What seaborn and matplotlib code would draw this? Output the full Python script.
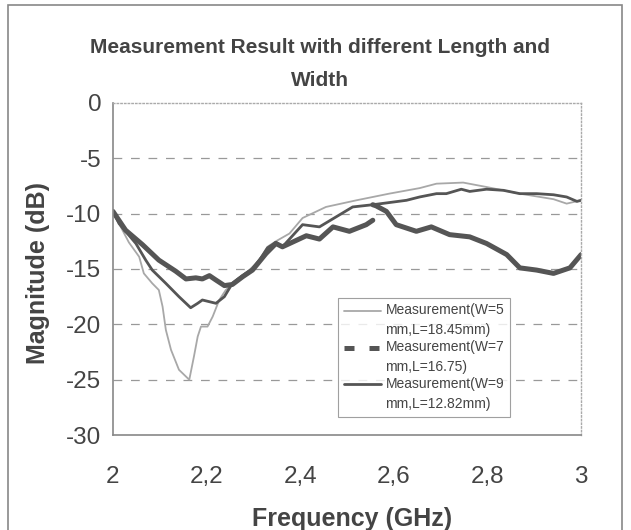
import numpy as np
import pandas as pd
import matplotlib
matplotlib.use('Agg')
import matplotlib.pyplot as plt
import seaborn as sns
from matplotlib.lines import Line2D
from matplotlib.patches import Rectangle
from matplotlib.legend_handler import HandlerLine2D

sns.set_style('white')
plt.rcParams['font.family'] = ['Liberation Sans', 'DejaVu Sans']
plt.rcParams['axes.unicode_minus'] = False

# 数据
freq_w5 = [2.0, 2.013, 2.034, 2.056, 2.066, 2.084, 2.098, 2.106, 2.113, 2.124, 2.141, 2.163,
           2.173, 2.181, 2.188, 2.202, 2.213, 2.227, 2.241, 2.263, 2.291, 2.313, 2.330, 2.348,
           2.377, 2.405, 2.455, 2.52, 2.59, 2.655, 2.691, 2.748, 2.798, 2.869, 2.941, 2.969, 3.0]
mag_w5 = [-9.8, -10.9, -12.6, -13.9, -15.4, -16.3, -16.9, -18.4, -20.5, -22.3, -24.1, -25.0,
          -22.9, -21.1, -20.2, -20.2, -19.3, -17.8, -16.9, -16.0, -15.1, -14.2, -13.0, -12.5,
          -11.8, -10.4, -9.4, -8.8, -8.2, -7.7, -7.3, -7.2, -7.6, -8.2, -8.7, -9.1, -8.8]

freq_w9 = [2.0, 2.013, 2.049, 2.07, 2.084, 2.113, 2.141, 2.166, 2.181, 2.191, 2.22, 2.238,
           2.255, 2.277, 2.298, 2.313, 2.330, 2.348, 2.362, 2.405, 2.441, 2.512, 2.555, 2.627,
           2.655, 2.691, 2.712, 2.744, 2.762, 2.798, 2.834, 2.869, 2.905, 2.941, 2.969, 2.991, 3.0]
mag_w9 = [-9.8, -10.9, -12.7, -14.2, -15.1, -16.3, -17.5, -18.5, -18.1, -17.8, -18.1, -17.5,
          -16.3, -15.6, -15.0, -14.2, -13.1, -12.6, -13.0, -11.0, -11.2, -9.4, -9.2, -8.8,
          -8.5, -8.2, -8.2, -7.8, -8.0, -7.8, -7.9, -8.2, -8.2, -8.3, -8.5, -8.9, -8.8]

freq_w7a = [2.0, 2.027, 2.063, 2.098, 2.134, 2.156, 2.177, 2.191, 2.206, 2.22, 2.238, 2.255,
            2.277, 2.298, 2.327, 2.348, 2.362, 2.413, 2.441, 2.47, 2.505, 2.541, 2.555]
mag_w7a = [-9.8, -11.5, -12.8, -14.2, -15.2, -15.9, -15.8, -15.9, -15.6, -16.0, -16.5, -16.4,
           -15.7, -15.1, -13.6, -12.7, -13.0, -12.0, -12.3, -11.2, -11.6, -11.0, -10.6]

freq_w7b = [2.555, 2.562, 2.584, 2.605, 2.648, 2.68, 2.719, 2.762, 2.798, 2.841, 2.869, 2.905,
            2.941, 2.976, 3.0]
mag_w7b = [-9.2, -9.3, -9.8, -11.0, -11.6, -11.2, -11.9, -12.1, -12.7, -13.7, -14.9, -15.1,
           -15.4, -14.9, -13.7]

labels = ['Measurement(W=5\nmm,L=18.45mm)', 'Measurement(W=7\nmm,L=16.75)',
          'Measurement(W=9\nmm,L=12.82mm)']
x_ticks = [2.0, 2.2, 2.4, 2.6, 2.8, 3.0]
x_ticklabels = ['2', '2,2', '2,4', '2,6', '2,8', '3']
y_ticks = [0, -5, -10, -15, -20, -25, -30]

text_c = '#444444'
line_c = '#555555'


# 图例线条对齐到每项的第一行
class UpperLineHandler(HandlerLine2D):
    def create_artists(self, legend, orig_handle, xdescent, ydescent, width, height,
                       fontsize, trans):
        arts = super().create_artists(legend, orig_handle, xdescent, ydescent, width,
                                      height, fontsize, trans)
        for a in arts:
            a.set_ydata(np.asarray(a.get_ydata()) + fontsize * 0.75)
        return arts


fig = plt.figure(figsize=(6.31, 5.30), dpi=100)
ax = fig.add_axes([0.179, 0.179, 0.742, 0.627])

# 虚线网格
for yv in y_ticks[1:-1]:
    ax.axhline(yv, color='#999999', lw=0.9, dashes=(7, 7), zorder=0)

sns.lineplot(x=freq_w5, y=mag_w5, ax=ax, color='#a8a8a8', lw=1.3, legend=False)
sns.lineplot(x=freq_w9, y=mag_w9, ax=ax, color=line_c, lw=2.0, legend=False)
sns.lineplot(x=freq_w7a, y=mag_w7a, ax=ax, color=line_c, lw=3.6, legend=False)
sns.lineplot(x=freq_w7b, y=mag_w7b, ax=ax, color=line_c, lw=3.6, legend=False)

ax.set_xlim(2, 3)
ax.set_ylim(-30, 0)
ax.set_xticks(x_ticks)
ax.set_xticklabels(x_ticklabels)
ax.set_yticks(y_ticks)
ax.tick_params(direction='inout', length=7, width=1, color='#888888',
               labelsize=17.5, labelcolor=text_c)
ax.tick_params(axis='x', pad=19)
ax.tick_params(axis='y', pad=5)
ax.set_xlabel('')
ax.set_ylabel('')

for side in ['left', 'bottom']:
    ax.spines[side].set_color('#888888')
    ax.spines[side].set_linewidth(1.2)
for side in ['top', 'right']:
    ax.spines[side].set_color('#aaaaaa')
    ax.spines[side].set_linestyle(':')
    ax.spines[side].set_linewidth(1.0)

handles = [Line2D([], [], color='#a8a8a8', lw=1.3),
           Line2D([], [], color=line_c, lw=3.6, dashes=(2, 3)),
           Line2D([], [], color=line_c, lw=2.0)]
leg = ax.legend(handles, labels, loc='upper left', bbox_to_anchor=(0.481, 0.413),
                fontsize=10, frameon=True, fancybox=False, handlelength=2.7,
                handletextpad=0.3, borderpad=0.4, borderaxespad=0, labelspacing=0.2,
                labelcolor=text_c,
                handler_map={h: UpperLineHandler() for h in handles})
for t in leg.get_texts():
    t.set_linespacing(1.55)
leg.get_frame().set_edgecolor('#888888')
leg.get_frame().set_linewidth(0.8)

fig.text(0.507, 0.879, 'Measurement Result with different Length and\nWidth',
         ha='center', va='center', fontsize=15, fontweight='bold', color=text_c,
         linespacing=1.95)
fig.text(0.06, 0.485, 'Magnitude (dB)', rotation=90, ha='center', va='center',
         fontsize=18, fontweight='bold', color=text_c)
fig.text(0.558, 0.021, 'Frequency (GHz)', ha='center', va='center',
         fontsize=18, fontweight='bold', color=text_c)

# 外框
fig.patches.append(Rectangle((0.013, -0.05), 0.973, 1.04, transform=fig.transFigure,
                             fill=False, edgecolor='#888888', lw=1.2))

fig.savefig('out.png', dpi=100)
